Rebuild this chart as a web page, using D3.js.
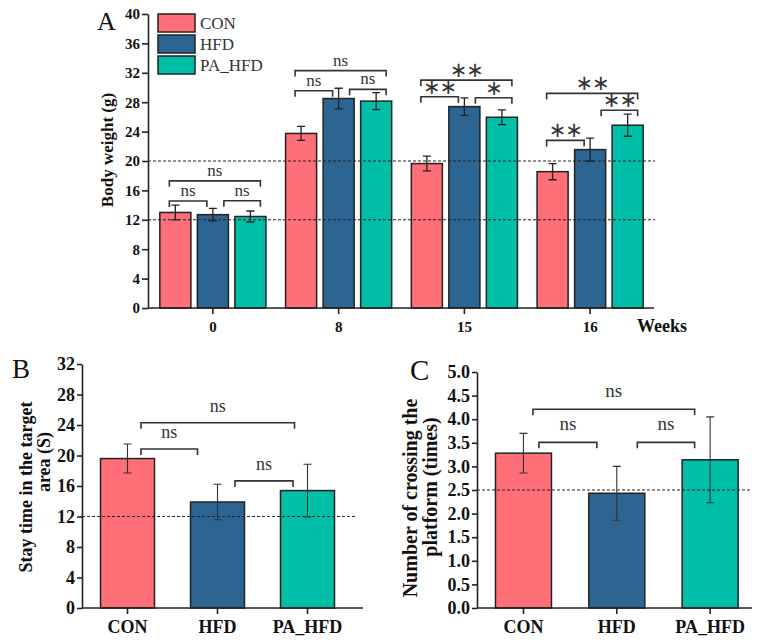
<!DOCTYPE html>
<html><head><meta charset="utf-8">
<script src="https://cdn.jsdelivr.net/npm/d3@7"></script>
<style>body{margin:0;background:#fff}svg{display:block}</style>
</head><body>
<svg id="chart" width="767" height="643"></svg>
<script>
// ---------- data ----------
const weeks = ["0", "8", "15", "16"];
const groups = ["CON", "HFD", "PA_HFD"];
const conWeight = [13.0, 23.75, 19.65, 18.55];
const conWeightErr = [1.0, 0.95, 1.0, 1.1];
const hfdWeight = [12.7, 28.5, 27.4, 21.55];
const hfdWeightErr = [0.85, 1.4, 1.2, 1.55];
const paWeight = [12.45, 28.15, 25.95, 24.87];
const paWeightErr = [0.75, 1.15, 1.0, 1.5];
const weightTicks = [0, 4, 8, 12, 16, 20, 24, 28, 32, 36, 40];

const stayTime = [19.6, 13.9, 15.4];
const stayTimeErr = [1.9, 2.33, 3.45];
const stayTicks = [0, 4, 8, 12, 16, 20, 24, 28, 32];

const crossings = [3.28, 2.43, 3.14];
const crossingsErr = [0.42, 0.57, 0.91];
const crossTicks = [0, 0.5, 1, 1.5, 2, 2.5, 3, 3.5, 4, 4.5, 5];

// significance brackets: [week, groupA, groupB, level (data units), label]
const sigA = [
  ["0", 0, 2, 17.3, "ns"], ["0", 0, 1, 14.55, "ns"], ["0", 1, 2, 14.6, "ns"],
  ["8", 0, 2, 32.3, "ns"], ["8", 0, 1, 29.55, "ns"], ["8", 1, 2, 29.75, "ns"],
  ["15", 0, 2, 31.0, "**"], ["15", 0, 1, 28.75, "**"], ["15", 1, 2, 28.6, "*"],
  ["16", 0, 2, 29.2, "**"], ["16", 0, 1, 22.8, "**"], ["16", 1, 2, 26.9, "**"]
];
const sigB = [[0, 2, 24.3, "ns"], [0, 1, 20.86, "ns"], [1, 2, 16.67, "ns"]];
const sigC = [[0, 2, 4.21, "ns"], [0, 1, 3.51, "ns"], [1, 2, 3.51, "ns"]];
const refA = [20, 12], refB = [12], refC = [2.5];

// ---------- styles ----------
const colors = { CON: "#FF6F77", HFD: "#2C6591", PA_HFD: "#00BFA8" };
const serif = "'Liberation Serif','Times New Roman',serif";
const ink = "#222";
const svg = d3.select("#chart");

function yAxis(g, scale, ticks, fmt, fs, tickLen) {
  const ax = d3.axisLeft(scale).tickValues(ticks).tickFormat(fmt).tickSize(tickLen).tickSizeOuter(0).tickPadding(2);
  g.call(ax);
  g.select(".domain").attr("stroke", ink).attr("stroke-width", 1.6);
  g.selectAll(".tick line").attr("stroke", ink).attr("stroke-width", 1.6);
  g.selectAll(".tick text").attr("font-family", serif).attr("font-weight", "bold").attr("font-size", fs).attr("fill", "#111");
}
function xAxis(g, scale, x0, x1, fs, tickLen, pad) {
  const ax = d3.axisBottom(scale).tickSize(tickLen).tickSizeOuter(0).tickPadding(pad);
  g.call(ax);
  g.select(".domain").remove();
  g.append("line").attr("x1", x0).attr("x2", x1).attr("stroke", ink).attr("stroke-width", 1.6);
  g.selectAll(".tick line").attr("stroke", ink).attr("stroke-width", 1.6);
  g.selectAll(".tick text").attr("font-family", serif).attr("font-weight", "bold").attr("font-size", fs).attr("fill", "#111");
}
function bracket(g, x1, x2, y, drop1, drop2, label, fs, lift) {
  g.append("path").attr("d", `M${x1},${y + drop1}V${y}H${x2}V${y + drop2}`)
    .attr("fill", "none").attr("stroke", "#333").attr("stroke-width", 1.6);
  const star = label.indexOf("*") >= 0;
  g.append("text").attr("x", (x1 + x2) / 2).attr("y", star ? y - 3 : y - lift)
    .attr("text-anchor", "middle")
    .attr("font-family", star ? "'DejaVu Sans',sans-serif" : serif)
    .attr("font-size", star ? 21 : fs)
    .attr("letter-spacing", star ? -1 : 0)
    .attr("fill", "#333")
    .text(star ? label.replace(/\*/g, "∗") : label);
}

// ================= Panel A =================
const yA = d3.scaleLinear().domain([0, 40]).range([308, 14]);
const xA = d3.scaleBand().domain(weeks).range([150, 653]);
const xAi = d3.scaleBand().domain(groups).range([0, xA.bandwidth()]).paddingInner(0.173).paddingOuter(0.262);
const seriesA = [
  { g: "CON", v: conWeight, e: conWeightErr },
  { g: "HFD", v: hfdWeight, e: hfdWeightErr },
  { g: "PA_HFD", v: paWeight, e: paWeightErr }
];
const gA = svg.append("g");
seriesA.forEach(s => {
  weeks.forEach((w, i) => {
    const x = xA(w) + xAi(s.g), bw = xAi.bandwidth();
    gA.append("rect").attr("x", x).attr("y", yA(s.v[i])).attr("width", bw).attr("height", yA(0) - yA(s.v[i]))
      .attr("fill", colors[s.g]).attr("stroke", ink).attr("stroke-width", 1.5);
  });
});
refA.forEach(r => gA.append("line").attr("x1", 148).attr("x2", 655).attr("y1", yA(r)).attr("y2", yA(r))
  .attr("stroke", ink).attr("stroke-width", 1.1).attr("stroke-dasharray", "3,2"));
seriesA.forEach(s => {
  weeks.forEach((w, i) => {
    const cx = xA(w) + xAi(s.g) + xAi.bandwidth() / 2;
    const t = yA(s.v[i] + s.e[i]), b = yA(s.v[i] - s.e[i]);
    gA.append("path").attr("d", `M${cx},${t}V${b}M${cx - 4},${t}H${cx + 4}M${cx - 4},${b}H${cx + 4}`)
      .attr("stroke", ink).attr("stroke-width", 1.3).attr("fill", "none");
  });
});
sigA.forEach(([w, a, b, lvl, lab]) => {
  const ca = xA(w) + xAi(groups[a]) + xAi.bandwidth() / 2;
  const cb = xA(w) + xAi(groups[b]) + xAi.bandwidth() / 2;
  const x1 = ca + (a === 0 ? -6 : 11), x2 = cb + (b === 1 ? -6 : 10);
  bracket(gA, x1, x2, yA(lvl), 6, 6, lab, 17, 5);
});
yAxis(svg.append("g").attr("transform", "translate(148,0)"), yA, weightTicks, d3.format("d"), 15, 6);
xAxis(svg.append("g").attr("transform", `translate(0,${yA(0)})`), xA, 148, 654, 15, 6, 7);
svg.append("text").attr("x", 637).attr("y", 332).attr("font-family", serif).attr("font-weight", "bold")
  .attr("font-size", 18).attr("fill", "#111").text("Weeks");
svg.append("text").attr("transform", "translate(113,150) rotate(-90)").attr("text-anchor", "middle")
  .attr("font-family", serif).attr("font-weight", "bold").attr("font-size", 17).attr("fill", "#111").text("Body weight (g)");
svg.append("text").attr("x", 97).attr("y", 30).attr("font-family", serif).attr("font-size", 26).attr("fill", "#111").text("A");
// legend
groups.forEach((g, i) => {
  svg.append("rect").attr("x", 158).attr("y", 14 + i * 21).attr("width", 37).attr("height", 18)
    .attr("fill", colors[g]).attr("stroke", ink).attr("stroke-width", 1.5);
  svg.append("text").attr("x", 200).attr("y", 29 + i * 21).attr("font-family", serif).attr("font-size", 17)
    .attr("fill", "#333").text(g);
});

// ================= Panel B / C =================
function simplePanel(opts) {
  const { y, x, vals, errs, ticks, fmt, axisX, axisEnd, sig, offs, ref, refEnd, tickFs, catFs, sigFs, lift } = opts;
  const g = svg.append("g");
  groups.forEach((k, i) => {
    g.append("rect").attr("x", x(k)).attr("y", y(vals[i])).attr("width", x.bandwidth()).attr("height", y(0) - y(vals[i]))
      .attr("fill", colors[k]).attr("stroke", ink).attr("stroke-width", 1.5);
  });
  ref.forEach(r => g.append("line").attr("x1", axisX).attr("x2", refEnd).attr("y1", y(r)).attr("y2", y(r))
    .attr("stroke", ink).attr("stroke-width", 1.1).attr("stroke-dasharray", "3,2"));
  groups.forEach((k, i) => {
    const cx = x(k) + x.bandwidth() / 2, t = y(vals[i] + errs[i]), b = y(vals[i] - errs[i]);
    g.append("path").attr("d", `M${cx},${t}V${b}M${cx - 4},${t}H${cx + 4}M${cx - 4},${b}H${cx + 4}`)
      .attr("stroke", "#333").attr("stroke-width", 1.1).attr("fill", "none");
  });
  sig.forEach(([a, b, lvl, lab], j) => {
    const x1 = x(groups[a]) + x.bandwidth() / 2 + offs[j][0];
    const x2 = x(groups[b]) + x.bandwidth() / 2 + offs[j][1];
    bracket(g, x1, x2, y(lvl), 6, 6, lab, sigFs, lift);
  });
  yAxis(svg.append("g").attr("transform", `translate(${axisX},0)`), y, ticks, fmt, tickFs, 5);
  xAxis(svg.append("g").attr("transform", `translate(0,${y(0)})`), x, axisX, axisEnd, catFs, 6, 6);
}
const yB = d3.scaleLinear().domain([0, 32]).range([608, 364]);
const xB = d3.scaleBand().domain(groups).range([82.5, 352.5]).paddingInner(0.4).paddingOuter(0.2);
simplePanel({ y: yB, x: xB, vals: stayTime, errs: stayTimeErr, ticks: stayTicks, fmt: d3.format("d"),
  axisX: 82, axisEnd: 363, sig: sigB, offs: [[13.5, -13], [13.5, -20], [17.5, -14.5]], ref: refB, refEnd: 357,
  tickFs: 18, catFs: 18, sigFs: 18, lift: 11 });
svg.append("text").attr("x", 12).attr("y", 378).attr("font-family", serif).attr("font-size", 27).attr("fill", "#111").text("B");
svg.append("text").attr("transform", "translate(32,487) rotate(-90)").attr("text-anchor", "middle")
  .attr("font-family", serif).attr("font-weight", "bold").attr("font-size", 18).attr("fill", "#111").text("Stay time in the target");
svg.append("text").attr("transform", "translate(50,462) rotate(-90)").attr("text-anchor", "middle")
  .attr("font-family", serif).attr("font-weight", "bold").attr("font-size", 18).attr("fill", "#111").text("area (S)");

const yC = d3.scaleLinear().domain([0, 5]).range([608, 372]);
const xC = d3.scaleBand().domain(groups).range([476.8, 756.8]).paddingInner(0.4).paddingOuter(0.2);
simplePanel({ y: yC, x: xC, vals: crossings, errs: crossingsErr, ticks: crossTicks, fmt: d3.format(".1f"),
  axisX: 477, axisEnd: 752, sig: sigC, offs: [[9.5, -15.5], [15.5, -20], [20.5, -15.5]], ref: refC, refEnd: 752,
  tickFs: 18, catFs: 18, sigFs: 19, lift: 12 });
svg.append("text").attr("x", 410).attr("y", 380).attr("font-family", serif).attr("font-size", 29).attr("fill", "#111").text("C");
svg.append("text").attr("transform", "translate(417,498) rotate(-90)").attr("text-anchor", "middle")
  .attr("font-family", serif).attr("font-weight", "bold").attr("font-size", 20).attr("fill", "#111").text("Number of crossing the");
svg.append("text").attr("transform", "translate(437,487) rotate(-90)").attr("text-anchor", "middle")
  .attr("font-family", serif).attr("font-weight", "bold").attr("font-size", 20).attr("fill", "#111").text("platform (times)");
</script>
</body></html>
